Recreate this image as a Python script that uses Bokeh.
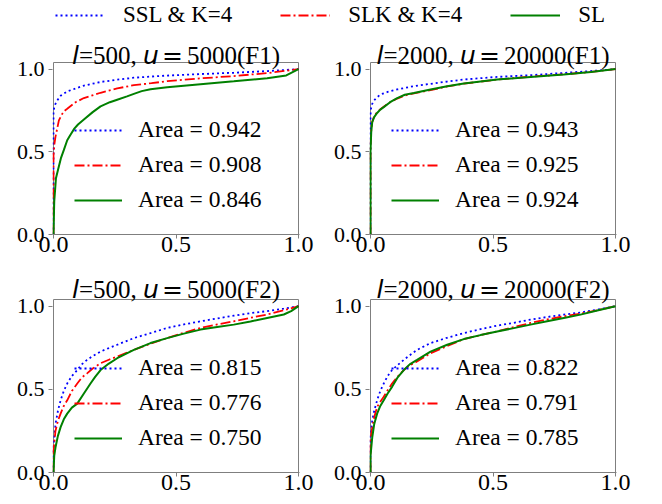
from bokeh.plotting import figure
from bokeh.models import Range1d, Legend, LegendItem, PrintfTickFormatter, FixedTicker
from bokeh.layouts import column, row
from bokeh.core.properties import value
from bokeh.embed import file_html
from bokeh.resources import INLINE

# ---------------- data ----------------
series_names = ["SSL & K=4", "SLK & K=4", "SL"]

# panel 1: l=500, u=5000 (F1)
p1_ssl_x = [0, 0, 0.003, 0.008, 0.015, 0.03, 0.056, 0.09, 0.124, 0.16, 0.192, 0.26, 0.328, 0.4, 0.464, 0.6, 0.736, 0.872, 1.0]
p1_ssl_y = [0, 0.74, 0.77, 0.79, 0.81, 0.84, 0.865, 0.883, 0.9, 0.912, 0.922, 0.936, 0.948, 0.955, 0.961, 0.97, 0.978, 0.988, 1.0]
p1_slk_x = [0, 0, 0.004, 0.008, 0.015, 0.022, 0.032, 0.042, 0.056, 0.09, 0.124, 0.192, 0.26, 0.328, 0.4, 0.464, 0.6, 0.736, 0.872, 1.0]
p1_slk_y = [0, 0.48, 0.55, 0.59, 0.64, 0.69, 0.72, 0.745, 0.76, 0.8, 0.825, 0.857, 0.883, 0.903, 0.915, 0.927, 0.944, 0.958, 0.976, 1.0]
p1_sl_x = [0, 0.003, 0.01, 0.02, 0.03, 0.042, 0.056, 0.07, 0.085, 0.1, 0.124, 0.16, 0.192, 0.23, 0.26, 0.3, 0.328, 0.36, 0.396, 0.464, 0.6, 0.736, 0.872, 0.95, 1.0]
p1_sl_y = [0, 0.2, 0.34, 0.4, 0.46, 0.51, 0.57, 0.605, 0.64, 0.665, 0.695, 0.74, 0.775, 0.8, 0.815, 0.835, 0.85, 0.867, 0.878, 0.89, 0.908, 0.926, 0.945, 0.962, 1.0]
p1_auc = ["0.942", "0.908", "0.846"]
p1_title = ["l", "=500,", "u", "=", "5000(F1)"]

# panel 2: l=2000, u=20000 (F1)
p2_ssl_x = [0, 0, 0.002, 0.007, 0.014, 0.027, 0.041, 0.07, 0.109, 0.177, 0.245, 0.313, 0.381, 0.517, 0.653, 0.789, 0.9, 1.0]
p2_ssl_y = [0, 0.72, 0.76, 0.79, 0.81, 0.83, 0.847, 0.862, 0.877, 0.897, 0.911, 0.925, 0.937, 0.953, 0.963, 0.977, 0.988, 1.0]
p2_slk_x = [0, 0, 0.003, 0.007, 0.015, 0.027, 0.04, 0.054, 0.08, 0.109, 0.14, 0.177, 0.245, 0.313, 0.381, 0.517, 0.653, 0.789, 0.9, 1.0]
p2_slk_y = [0, 0.53, 0.63, 0.68, 0.715, 0.74, 0.757, 0.772, 0.8, 0.822, 0.84, 0.853, 0.873, 0.895, 0.912, 0.937, 0.954, 0.968, 0.983, 1.0]
p2_sl_x = [0, 0, 0.003, 0.007, 0.015, 0.027, 0.04, 0.054, 0.08, 0.109, 0.14, 0.177, 0.245, 0.313, 0.381, 0.517, 0.653, 0.789, 0.9, 1.0]
p2_sl_y = [0, 0.5, 0.62, 0.68, 0.71, 0.735, 0.755, 0.77, 0.8, 0.825, 0.845, 0.855, 0.877, 0.897, 0.913, 0.937, 0.953, 0.967, 0.982, 1.0]
p2_auc = ["0.943", "0.925", "0.924"]
p2_title = ["l", "=2000,", "u", "=", "20000(F1)"]

# panel 3: l=500, u=5000 (F2)
p3_ssl_x = [0, 0, 0.008, 0.018, 0.029, 0.042, 0.056, 0.075, 0.097, 0.115, 0.137, 0.16, 0.192, 0.226, 0.26, 0.328, 0.396, 0.464, 0.532, 0.6, 0.668, 0.736, 0.804, 0.872, 0.94, 1.0]
p3_ssl_y = [0, 0.15, 0.29, 0.37, 0.434, 0.49, 0.535, 0.58, 0.616, 0.65, 0.677, 0.7, 0.727, 0.748, 0.768, 0.808, 0.838, 0.869, 0.89, 0.909, 0.926, 0.943, 0.958, 0.97, 0.985, 1.0]
p3_slk_x = [0, 0, 0.008, 0.018, 0.029, 0.042, 0.056, 0.075, 0.097, 0.115, 0.137, 0.16, 0.192, 0.226, 0.26, 0.328, 0.396, 0.464, 0.532, 0.6, 0.668, 0.736, 0.804, 0.872, 0.94, 1.0]
p3_slk_y = [0, 0.13, 0.25, 0.31, 0.354, 0.4, 0.434, 0.49, 0.535, 0.57, 0.596, 0.625, 0.657, 0.678, 0.697, 0.737, 0.775, 0.808, 0.84, 0.869, 0.89, 0.909, 0.93, 0.95, 0.975, 1.0]
p3_sl_x = [0, 0.003, 0.008, 0.018, 0.029, 0.042, 0.056, 0.075, 0.097, 0.124, 0.151, 0.17, 0.192, 0.226, 0.26, 0.328, 0.396, 0.464, 0.532, 0.6, 0.668, 0.736, 0.804, 0.872, 0.94, 0.97, 1.0]
p3_sl_y = [0, 0.1, 0.15, 0.22, 0.273, 0.32, 0.354, 0.39, 0.414, 0.475, 0.535, 0.575, 0.616, 0.655, 0.687, 0.737, 0.778, 0.808, 0.835, 0.859, 0.874, 0.889, 0.908, 0.929, 0.95, 0.97, 1.0]
p3_auc = ["0.815", "0.776", "0.750"]
p3_title = ["l", "=500,", "u", "=", "5000(F2)"]

# panel 4: l=2000, u=20000 (F2)
p4_x = [0, 0, 0.007, 0.015, 0.027, 0.04, 0.054, 0.07, 0.088, 0.11, 0.136, 0.16, 0.19, 0.245, 0.313, 0.381, 0.449, 0.517, 0.585, 0.653, 0.721, 0.789, 0.857, 0.93, 1.0]
p4_ssl_y = [0, 0.21, 0.313, 0.37, 0.434, 0.49, 0.535, 0.58, 0.616, 0.645, 0.677, 0.705, 0.737, 0.778, 0.81, 0.838, 0.862, 0.883, 0.9, 0.919, 0.935, 0.949, 0.962, 0.98, 1.0]
p4_slk_y = [0, 0.2, 0.27, 0.33, 0.394, 0.425, 0.455, 0.495, 0.535, 0.575, 0.616, 0.645, 0.667, 0.717, 0.76, 0.802, 0.826, 0.848, 0.874, 0.899, 0.92, 0.939, 0.955, 0.977, 1.0]
p4_sl_y = [0, 0.1, 0.21, 0.29, 0.354, 0.4, 0.434, 0.475, 0.515, 0.57, 0.616, 0.65, 0.677, 0.727, 0.768, 0.802, 0.826, 0.848, 0.868, 0.889, 0.909, 0.929, 0.949, 0.975, 1.0]
p4_auc = ["0.822", "0.791", "0.785"]
p4_title = ["l", "=2000,", "u", "=", "20000(F2)"]

ticks = [0.0, 0.5, 1.0]

# ---------------- styles ----------------
SERIF = "Liberation Serif"
SANS = "DejaVu Sans"
COLORS = ["#0000ff", "#ff0000", "#008000"]
DASHES = ["2 3", "10 3 2 3", "solid"]
WIDTHS = [1.8, 1.8, 2.0]
FRAME_COLOR = "#7f7f7f"
BOX_W = 245          # pixel width of the drawn axes box
Y_TOP = 1.04         # data value at the top of the axes box
# per title piece: font, style, approx width in px at 25px
PIECE_FONTS = [(SANS, "italic"), (SERIF, "normal"), (SANS, "italic"), (SANS, "normal"), (SERIF, "normal")]
CHAR_W = {"l": 7, "u": 16, "=": 14, "5": 12.5, "0": 12.5, "2": 12.5, ",": 6.25,
          "(": 8.3, ")": 8.3, "F": 13.9, "1": 12.5}
GAPS = [0, 0, 6.25, 3, 4]   # extra gaps before each piece (spaces)


def piece_width(i, s):
    if i == 3:
        return 21.0
    return sum(CHAR_W.get(ch, 12.5) for ch in s)


def make_panel(width, height, left, right, bottom, box_h, title_gap, curves, aucs, title):
    top = 2
    frame_h = height - top - bottom
    k = box_h / Y_TOP
    pad = 1.0 / BOX_W
    p = figure(width=width, height=height,
               x_range=Range1d(-pad, 1 + pad), y_range=Range1d(0, frame_h / k),
               output_backend="svg", toolbar_location=None,
               min_border_left=left, min_border_right=right,
               min_border_top=top, min_border_bottom=bottom)
    p.grid.visible = False
    p.outline_line_color = None
    p.xaxis.axis_line_color = FRAME_COLOR
    p.yaxis.axis_line_color = None
    for ax in (p.xaxis[0], p.yaxis[0]):
        ax.ticker = FixedTicker(ticks=ticks)
        ax.formatter = PrintfTickFormatter(format="%.1f")
        ax.major_tick_line_color = FRAME_COLOR
        ax.major_tick_out = 4
        ax.major_tick_in = 0
        ax.minor_tick_line_color = None
        ax.major_label_text_font = SERIF
        ax.major_label_text_color = "black"
    p.xaxis.major_label_text_font_size = "24px"
    p.xaxis.major_label_standoff = -2
    p.yaxis.major_label_text_font_size = "22px"
    p.yaxis.major_label_standoff = 4

    # axes box
    p.quad(left=[0], right=[1], bottom=[0], top=[Y_TOP], fill_color=None,
           line_color=FRAME_COLOR, line_width=1)

    items = []
    for (xs, ys), c, d, w, a in zip(curves, COLORS, DASHES, WIDTHS, aucs):
        r = p.line(xs, ys, line_color=c, line_dash=d, line_width=w)
        items.append(LegendItem(label="Area = " + a, renderers=[r]))
    leg = Legend(items=items, location=(22, 21), orientation="vertical",
                 border_line_color=None, background_fill_alpha=0,
                 padding=0, margin=0, spacing=8,
                 glyph_width=48, glyph_height=26, label_height=26, label_standoff=16,
                 label_text_font=SERIF, label_text_font_size="23.5px", label_text_color="black")
    p.add_layout(leg, "center")

    # title made of pieces (mixed fonts), centred over the box
    offs = []
    cur = 0.0
    for i, s in enumerate(title):
        cur += GAPS[i]
        offs.append(cur)
        cur += piece_width(i, s)
    start = -cur / 2
    for s, (font, style), off in zip(title, PIECE_FONTS, offs):
        p.text(x=[0.5], y=[Y_TOP], text=[s], x_offset=start + off, y_offset=-title_gap,
               text_font=value(font), text_font_style=value(style),
               text_font_size=value("25px"), text_color="black",
               text_align="left", text_baseline="alphabetic")
    return p


LW, RW = 325, 337
H1, H2 = 234, 240

f1 = make_panel(LW, H1, 52, 26, 30, 172, 7,
                [(p1_ssl_x, p1_ssl_y), (p1_slk_x, p1_slk_y), (p1_sl_x, p1_sl_y)], p1_auc, p1_title)
f2 = make_panel(RW, H1, 44, 46, 30, 172, 7,
                [(p2_ssl_x, p2_ssl_y), (p2_slk_x, p2_slk_y), (p2_sl_x, p2_sl_y)], p2_auc, p2_title)
f3 = make_panel(LW, H2, 52, 26, 32, 173, 10,
                [(p3_ssl_x, p3_ssl_y), (p3_slk_x, p3_slk_y), (p3_sl_x, p3_sl_y)], p3_auc, p3_title)
f4 = make_panel(RW, H2, 44, 46, 32, 173, 10,
                [(p4_x, p4_ssl_y), (p4_x, p4_slk_y), (p4_x, p4_sl_y)], p4_auc, p4_title)

# top legend strip (proxy lines drawn from panel-1 data, outside the visible range)
lg = figure(width=LW + RW, height=30, x_range=Range1d(0, 1), y_range=Range1d(5, 6),
            output_backend="svg", toolbar_location=None, x_axis_type=None, y_axis_type=None,
            min_border=0, outline_line_color=None)
lg.grid.visible = False
top_items = []
proxy = [(p1_ssl_x, p1_ssl_y), (p1_slk_x, p1_slk_y), (p1_sl_x, p1_sl_y)]
for name, (xs, ys), c, d, w in zip(series_names, proxy, COLORS, DASHES, WIDTHS):
    r = lg.line(xs, ys, line_color=c, line_dash=d, line_width=w)
    top_items.append(LegendItem(label=name, renderers=[r]))
top_leg = Legend(items=top_items, location=(55, 2), orientation="horizontal",
                 border_line_color=None, background_fill_alpha=0,
                 padding=0, margin=0, spacing=48,
                 glyph_width=50, glyph_height=26, label_height=26, label_standoff=18,
                 label_text_font=SERIF, label_text_font_size="23px", label_text_color="black")
lg.add_layout(top_leg, "center")

layout = column(lg, row(f1, f2), row(f3, f4))

with open("out.html", "w") as fh:
    fh.write(file_html(layout, INLINE))
